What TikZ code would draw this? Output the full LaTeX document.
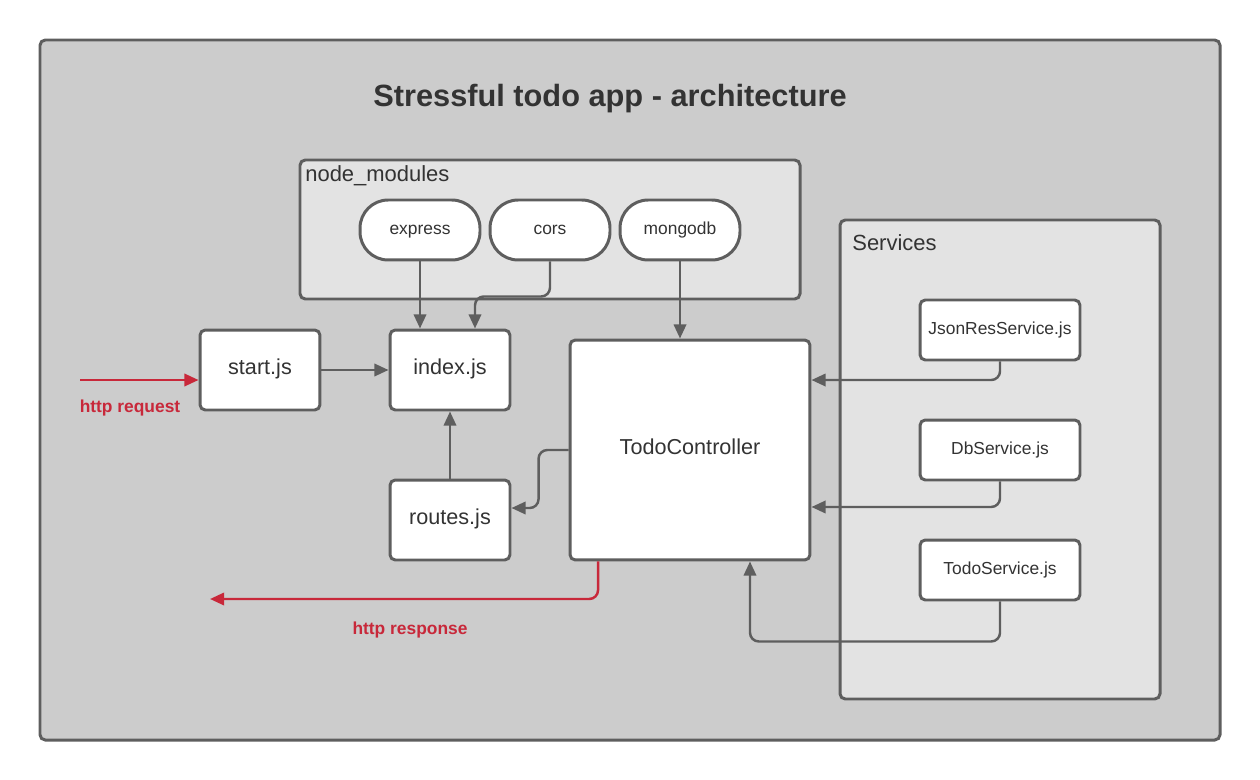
\documentclass[tikz,border=0pt]{standalone}
\usepackage{fontspec}
\setmainfont{Liberation Sans}
\usepackage{tikz}
\usetikzlibrary{arrows.meta}
\usetikzlibrary{calc,positioning}

\definecolor{linegray}{HTML}{5E5E5E}
\definecolor{txtgray}{HTML}{333333}
\definecolor{outerfill}{HTML}{CCCCCC}
\definecolor{groupfill}{HTML}{E3E3E3}
\definecolor{httpred}{HTML}{C8283A}

\begin{document}
\begin{tikzpicture}[x=0.02cm,y=-0.02cm,
            box/.style={draw=linegray,fill=white,line width=1.7pt,rounded corners=3pt,text=txtgray,inner sep=0pt,text height=0.72em,text depth=0.21em},
            file/.style={box,minimum width=2.4cm,minimum height=1.6cm,font=\fontsize{12.3}{14}\selectfont},
            service/.style={box,minimum width=3.2cm,minimum height=1.2cm,font=\fontsize{9.9}{12}\selectfont},
            module/.style={box,minimum width=2.4cm,minimum height=1.2cm,rounded corners=16pt,font=\fontsize{9.9}{12}\selectfont},
            group/.style={draw=linegray,fill=groupfill,line width=1.7pt,rounded corners=3pt},
            conn/.style={draw=linegray,line width=1.4pt,rounded corners=5pt,-{Triangle[length=8pt,width=7pt]}},
            http/.style={draw=httpred,line width=1.4pt,rounded corners=5pt,-{Triangle[length=8pt,width=7pt]}},
            httplabel/.style={text=httpred,font=\bfseries\fontsize{9.9}{12}\selectfont,text height=0.72em,text depth=0.21em}]
            \useasboundingbox (0,0) rectangle (1260,780);

            % frame and title
            \filldraw[draw=linegray,fill=outerfill,line width=1.7pt,rounded corners=3pt] (40,40) rectangle (1220,740);
            \node[text=txtgray,font=\bfseries\fontsize{17.5}{20}\selectfont,text height=0.72em,text depth=0.21em] (title) at (610,102) {Stressful todo app - architecture};

            % node_modules
            \filldraw[group] (300,160) rectangle (800,299);
            \node[anchor=west,inner sep=0pt,text=txtgray,font=\fontsize{12.5}{14}\selectfont] (modlabel) at (305,176) {node\_modules};
            \node[module] (express) at (420,230) {express};
            \node[module] (cors) at (550,230) {cors};
            \node[module] (mongodb) at (680,230) {mongodb};

            % Services
            \filldraw[group] (840,220) rectangle (1160,699);
            \node[anchor=west,inner sep=0pt,text=txtgray,font=\fontsize{12.5}{14}\selectfont] (servlabel) at (852,243) {Services};
            \node[service] (jsonres) at (1000,330) {JsonResService.js};
            \node[service] (dbserv) at (1000,450) {DbService.js};
            \node[service] (todoserv) at (1000,570) {TodoService.js};

            % files
            \node[file] (start) at (260,370) {start.js};
            \node[file] (index) at (450,370) {index.js};
            \node[file] (routes) at (450,520) {routes.js};
            \node[box,minimum width=4.8cm,minimum height=4.4cm,font=\fontsize{12.3}{14}\selectfont] (ctrl) at (690,450) {TodoController};

            % connections
            \draw[conn] (start.east) -- (index.west);
            \draw[conn] (express.south) -- (express.south |- index.north);
            \draw[conn] (cors.south) -- ++(0,35) -| ([xshift=0.5cm]index.north);
            \draw[conn] (mongodb.south) -- (mongodb.south |- ctrl.north);
            \draw[conn] (routes.north) -- (index.south);
            \draw[conn] (ctrl.west) -- ++(-30,0) |- ([yshift=0.24cm]routes.east);
            \draw[conn] (jsonres.south) |- ([yshift=1.4cm]ctrl.east);
            \draw[conn] (dbserv.south) |- ([yshift=-1.14cm]ctrl.east);
            \draw[conn] (todoserv.south) -- ++(0,40) -| ([xshift=1.2cm]ctrl.south);

            % http in and out
            \coordinate (req) at (80,380);
            \coordinate (resp) at (210,599);
            \draw[http] (req) -- (req -| start.west);
            \draw[http] ([xshift=-1.84cm]ctrl.south) |- (resp);
            \node[httplabel] (reqlabel) at (130,408) {http request};
            \node[httplabel] (resplabel) at (410,630) {http response};
        \end{tikzpicture}
\end{document}
